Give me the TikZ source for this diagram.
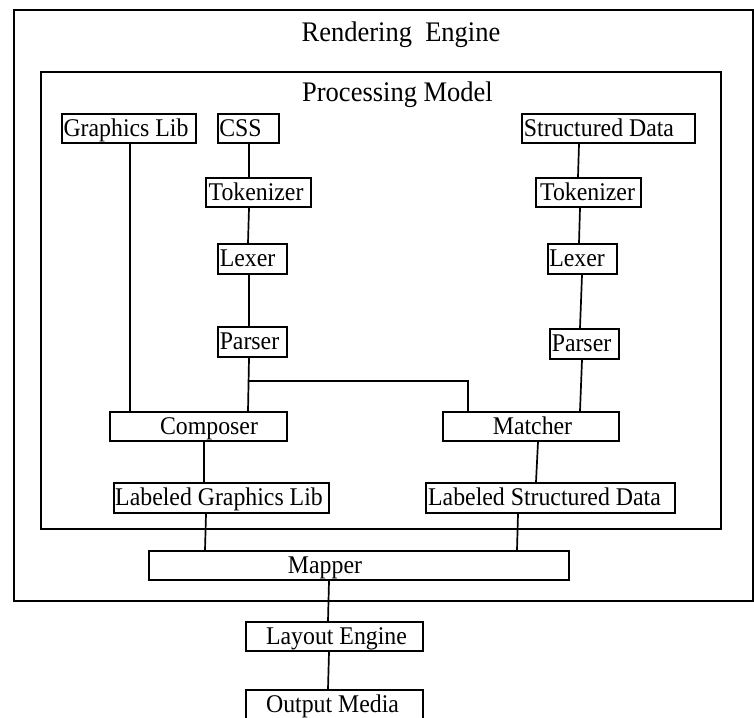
\documentclass[tikz,border=0pt]{standalone}
\usepackage{graphicx}
\usepackage{fontspec}
\setmainfont{Liberation Serif}
\newcommand\shtext[2]{\kern#1\relax\scalebox{1}[1.07]{#2}\kern-#1\relax}
\begin{document}
\begin{tikzpicture}[x=1pt,y=-1pt,
  box/.style={draw, line width=2pt, inner sep=0pt, anchor=north west,
    minimum height=29pt, text height=15.5pt, text depth=0pt,
    font=\fontsize{23.8}{28}\selectfont},
  frame/.style={draw, line width=2.3pt, inner sep=0pt, anchor=north west},
  title/.style={anchor=base, font=\fontsize{26.5}{30}\selectfont},
  link/.style={line width=1.7pt}]
\useasboundingbox (0,0) rectangle (754,717);
% containers
\node[frame, minimum width=739pt, minimum height=591pt] (engine) at (13,9) {};
\node[frame, minimum width=680pt, minimum height=457pt] (model) at (40,71) {};
\node[title] (enginetitle) at (401,41.7) {\scalebox{1}[1.07]{Rendering\ \ Engine}};
\node[title] (modeltitle) at (397.5,101.7) {\scalebox{1}[1.07]{Processing Model}};
% boxes
\node[box, minimum width=134pt] (gl) at (61,113) {\shtext{-3pt}{Graphics Lib}};
\node[box, minimum width=61pt] (css) at (217,113) {\shtext{-8pt}{CSS}};
\node[box, minimum width=173pt] (sd) at (521,113) {\shtext{-9.5pt}{Structured Data}};
\node[box, minimum width=105pt] (tokL) at (205,177) {\shtext{-2.5pt}{Tokenizer}};
\node[box, minimum width=105pt] (tokR) at (535,177) {\shtext{-1pt}{Tokenizer}};
\node[box, minimum width=69pt, minimum height=30pt] (lexL) at (217,243) {\shtext{-5pt}{Lexer}};
\node[box, minimum width=69pt, minimum height=30pt] (lexR) at (547,243) {\shtext{-5.5pt}{Lexer}};
\node[box, minimum width=69pt, minimum height=30pt] (parL) at (217,326) {\shtext{-3pt}{Parser}};
\node[box, minimum width=69pt, minimum height=30pt] (parR) at (549,328) {\shtext{-3pt}{Parser}};
\node[box, minimum width=177pt] (comp) at (109,411) {\shtext{10.5pt}{Composer}};
\node[box, minimum width=176pt] (match) at (442,411) {\shtext{1.5pt}{Matcher}};
\node[box, minimum width=215pt, minimum height=30pt] (lgl) at (113,482) {\shtext{-2.5pt}{Labeled Graphics Lib}};
\node[box, minimum width=249pt, minimum height=30pt] (lsd) at (425,482) {\shtext{-6pt}{Labeled Structured Data}};
\node[box, minimum width=420pt] (mapper) at (148,550) {\shtext{-34pt}{Mapper}};
\node[box, minimum width=177pt] (layout) at (245,621) {\shtext{2pt}{Layout Engine}};
\node[box, minimum width=177pt] (output) at (245,689) {\shtext{-2pt}{Output Media}};
% connectors
\draw[link] ([xshift=1pt]gl.south) -- ([xshift=-68.5pt]comp.north);
\draw[link] ([xshift=0.5pt]css.south) -- ([xshift=-9.5pt]tokL.north);
\draw[link] ([xshift=-9.5pt]tokL.south) -- ([xshift=-4.5pt]lexL.north);
\draw[link] ([xshift=-3.5pt]lexL.south) -- ([xshift=-3.5pt]parL.north);
\draw[link] ([xshift=-3.5pt]parL.south) -- ([xshift=49.5pt]comp.north);
\coordinate (jn) at (248,381);
\draw[link] (jn) -| ([xshift=-63pt]match.north);
\draw[link] ([xshift=-29.5pt]sd.south) -- ([xshift=-10.5pt]tokR.north);
\draw[link] ([xshift=-8.5pt]tokR.south) -- ([xshift=-3.5pt]lexR.north);
\draw[link] ([xshift=-0.5pt]lexR.south) -- ([xshift=-4.5pt]parR.north);
\draw[link] ([xshift=-2.5pt]parR.south) -- ([xshift=49pt]match.north);
\draw[link] ([xshift=5.5pt]comp.south) -- ([xshift=-17.5pt]lgl.north);
\draw[link] ([xshift=7pt]match.south) -- ([xshift=-14.5pt]lsd.north);
\draw[link] ([xshift=-15.5pt]lgl.south) -- ([xshift=-154pt]mapper.north);
\draw[link] ([xshift=-32.5pt]lsd.south) -- ([xshift=158pt]mapper.north);
\draw[link] ([xshift=-30pt]mapper.south) -- ([xshift=-6.5pt]layout.north);
\draw[link] ([xshift=-5.5pt]layout.south) -- ([xshift=-6.5pt]output.north);
\end{tikzpicture}
\end{document}
